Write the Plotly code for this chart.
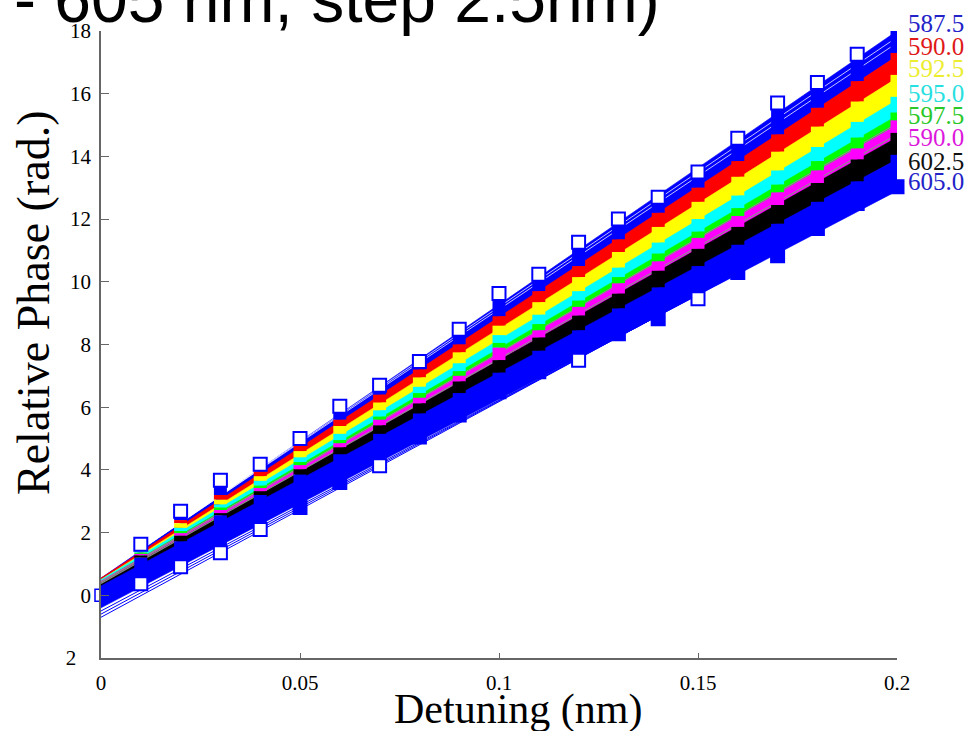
import plotly.graph_objects as go

# ---------------- data ----------------
detuning = [0.00, 0.01, 0.02, 0.03, 0.04, 0.05, 0.06, 0.07, 0.08, 0.09, 0.10,
            0.11, 0.12, 0.13, 0.14, 0.15, 0.16, 0.17, 0.18, 0.19, 0.20]
zero_phase = 0.0

wavelength_labels = ["587.5", "590.0", "592.5", "595.0", "597.5", "590.0", "602.5", "605.0"]
group_colors = ["#0000ff", "#ff0000", "#ffff00", "#00ffff", "#00ff00", "#ff00ff", "#000000", "#0000ff"]
label_colors = ["#2323c8", "#e01818", "#eded30", "#28e0e0", "#28c828", "#dc18dc", "#111111", "#2323c8"]

# fitted-line band of each wavelength: phase at 0 nm and at 0.2 nm detuning
band_lo_start = [0.20, 0.15, 0.10, 0.10, 0.10, 0.05, 0.00, -0.40]
band_hi_start = [0.55, 0.55, 0.50, 0.50, 0.45, 0.45, 0.40, 0.30]
band_lo_end = [17.20, 16.50, 15.80, 15.30, 15.00, 14.60, 13.90, 12.90]
band_hi_end = [18.00, 17.20, 16.50, 15.80, 15.30, 15.00, 14.60, 13.90]

# a few individual fitted lines (start, end)
outlier_start = [-0.50, -0.60, -0.70]
outlier_end = [12.95, 13.00, 13.05]
gap_start = [0.60, 0.62]
gap_end = [17.80, 17.62]
grey_start = [0.42, 0.38]
grey_end = [15.05, 14.70]

# measured points: column extents at each detuning (0.01 ... 0.20)
col_top = [1.83, 2.88, 3.87, 4.38, 5.20, 6.23, 6.90, 7.66, 8.69, 9.83,
           10.44, 11.46, 12.20, 12.90, 13.70, 14.78, 15.90, 16.56, 17.46, 18.26]
k1 = [1.60, 2.40, 3.20, 3.95, 4.80, 5.60, 6.40, 7.20, 8.00, 8.90,
      9.70, 10.50, 11.35, 12.20, 13.00, 13.85, 14.70, 15.55, 16.40, 17.30]
k2 = [1.50, 2.30, 3.05, 3.80, 4.60, 5.40, 6.15, 6.95, 7.75, 8.60,
      9.35, 10.15, 10.95, 11.75, 12.55, 13.35, 14.15, 14.95, 15.75, 16.60]
k3 = [1.42, 2.15, 2.90, 3.65, 4.40, 5.15, 5.90, 6.65, 7.40, 8.30,
      8.95, 9.70, 10.45, 11.25, 12.00, 12.75, 13.55, 14.30, 15.10, 15.90]
k4 = [1.36, 2.05, 2.80, 3.50, 4.25, 4.95, 5.70, 6.45, 7.15, 8.05,
      8.65, 9.40, 10.15, 10.90, 11.60, 12.35, 13.10, 13.85, 14.60, 15.40]
k5 = [1.32, 1.98, 2.72, 3.42, 4.15, 4.85, 5.60, 6.30, 7.00, 7.90,
      8.45, 9.20, 9.95, 10.65, 11.40, 12.10, 12.85, 13.55, 14.25, 15.15]
k6 = [1.27, 1.90, 2.62, 3.32, 4.02, 4.72, 5.42, 6.12, 6.82, 7.50,
      8.22, 8.92, 9.62, 10.35, 11.05, 11.75, 12.45, 13.15, 13.90, 14.75]
k7 = [1.20, 1.72, 2.55, 3.20, 3.85, 4.50, 5.15, 5.80, 6.45, 7.10,
      7.80, 8.45, 9.15, 9.82, 10.50, 11.18, 11.85, 12.55, 13.20, 14.05]
col_bot = [0.17, 0.71, 1.16, 1.90, 2.60, 3.40, 3.93, 4.85, 5.55, 6.29,
           6.93, 7.30, 8.14, 8.62, 9.26, 10.10, 10.63, 11.50, 12.30, 12.83]
# lowest square of each column: hollow (True) or filled (False)
bottom_hollow = [True, True, True, True, False, False, True, False, False, False,
                 False, True, False, False, True, False, False, False, False, False]

y_ticks = [-2, 0, 2, 4, 6, 8, 10, 12, 14, 16, 18]
y_ticktext = ["2\u2002\u2009", "0", "2", "4", "6", "8", "10", "12", "14", "16", "18"]
x_ticks = [0, 0.05, 0.1, 0.15, 0.2]
x_ticktext = ["0", "0.05", "0.1", "0.15", "0.2"]
label_y_px = [23, 46, 68, 94, 116, 137, 161, 181]

# ---------------- figure ----------------
L, R, T, B = 101, 80, 31, 73
W, H = 977, 731
PH = H - T - B
PW = W - L - R

fig = go.Figure()

# reference square at zero detuning
fig.add_trace(go.Scatter(
    x=[detuning[0]], y=[zero_phase], mode="markers", cliponaxis=False,
    marker=dict(symbol="square", size=12, color="white", line=dict(color="#0000ff", width=1.5)),
    hoverinfo="skip", showlegend=False))

x_ends = [detuning[0], detuning[-1]]
for g in range(8):
    fig.add_trace(go.Scatter(
        x=x_ends, y=[band_lo_start[g], band_lo_end[g]], mode="lines",
        line=dict(color=group_colors[g], width=0.6), hoverinfo="skip", showlegend=False))
    fig.add_trace(go.Scatter(
        x=x_ends, y=[band_hi_start[g], band_hi_end[g]], mode="lines",
        line=dict(color=group_colors[g], width=0.6), fill="tonexty",
        fillcolor=group_colors[g], hoverinfo="skip", showlegend=False))

for s, e in zip(outlier_start, outlier_end):
    fig.add_trace(go.Scatter(x=x_ends, y=[s, e], mode="lines",
                             line=dict(color="#0000ff", width=1), hoverinfo="skip", showlegend=False))
for s, e in zip(gap_start, gap_end):
    fig.add_trace(go.Scatter(x=x_ends, y=[s, e], mode="lines",
                             line=dict(color="rgba(255,255,255,0.85)", width=0.9), hoverinfo="skip", showlegend=False))
for s, e in zip(grey_start, grey_end):
    fig.add_trace(go.Scatter(x=x_ends, y=[s, e], mode="lines",
                             line=dict(color="#8c8c8c", width=1.2), hoverinfo="skip", showlegend=False))

# columns of measured points (stacked squares drawn as thick vertical strokes)
col_x = detuning[1:]
bounds = [col_top, k1, k2, k3, k4, k5, k6, k7, col_bot]
for g in range(8):
    hi = bounds[g]
    lo = bounds[g + 1]
    if g == 0:
        hi = [v - 0.2 for v in hi]
    if g == 7:
        lo = [v + 0.2 for v in lo]
    xs, ys = [], []
    for xv, a, b in zip(col_x, lo, hi):
        xs += [xv, xv, None]
        ys += [a, b, None]
    fig.add_trace(go.Scatter(
        x=xs, y=ys, mode="lines", cliponaxis=False,
        line=dict(color=group_colors[g], width=13), hoverinfo="skip", showlegend=False))

fig.add_trace(go.Scatter(
    x=col_x, y=[v - 0.2 for v in col_top], mode="markers", cliponaxis=False,
    marker=dict(symbol="square", size=13, color="white", line=dict(color="#0000ff", width=2)),
    hoverinfo="skip", showlegend=False))
fig.add_trace(go.Scatter(
    x=col_x, y=[v + 0.2 for v in col_bot], mode="markers", cliponaxis=False,
    marker=dict(symbol="square", size=13,
                color=["white" if h else "#0000ff" for h in bottom_hollow],
                line=dict(color="#0000ff", width=2)),
    hoverinfo="skip", showlegend=False))

axis_col = "#666666"
fig.update_layout(
    width=W, height=H, margin=dict(l=L, r=R, t=T, b=B, pad=0),
    paper_bgcolor="white", plot_bgcolor="white", showlegend=False,
    font=dict(family="Liberation Serif", size=21, color="black"),
    xaxis=dict(range=[0, 0.2], tickvals=x_ticks, ticktext=x_ticktext, ticks="inside",
               ticklen=5, tickcolor=axis_col, showline=True, linecolor=axis_col, linewidth=1.5,
               showgrid=False, zeroline=False, ticklabelstandoff=5,
               tickfont=dict(family="Liberation Serif", size=21, color="black")),
    yaxis=dict(range=[-2, 18], tickvals=y_ticks, ticktext=y_ticktext, ticks="inside",
               ticklen=8, tickcolor=axis_col, showline=True, linecolor=axis_col, linewidth=1.5,
               showgrid=False, zeroline=False, ticklabelstandoff=4,
               tickfont=dict(family="Liberation Serif", size=21, color="black")),
)

annotations = []
# cut-off title at the top
annotations.append(dict(
    text="- 605 nm, step 2.5nm)", xref="paper", yref="paper",
    x=(662 - L) / PW, y=(H - B - 38) / PH, xanchor="right", yanchor="bottom",
    showarrow=False, font=dict(family="Liberation Sans", size=66, color="black")))
annotations.append(dict(
    text="Relative Phase (rad.)", xref="paper", yref="paper", textangle=-90,
    x=(33 - L) / PW, y=(H - B - 303) / PH, xanchor="center", yanchor="middle",
    showarrow=False, font=dict(family="Liberation Serif", size=46, color="black")))
annotations.append(dict(
    text="Detuning (nm)", xref="paper", yref="paper",
    x=(518 - L) / PW, y=(H - B - 709) / PH, xanchor="center", yanchor="middle",
    showarrow=False, font=dict(family="Liberation Serif", size=42, color="black")))
for lab, col, py in zip(wavelength_labels, label_colors, label_y_px):
    annotations.append(dict(
        text=lab, xref="paper", yref="paper",
        x=(906 - L) / PW, y=(H - B - py) / PH, xanchor="left", yanchor="middle",
        showarrow=False, font=dict(family="Liberation Serif", size=25, color=col)))
fig.update_layout(annotations=annotations)

fig.write_html("out.html")
